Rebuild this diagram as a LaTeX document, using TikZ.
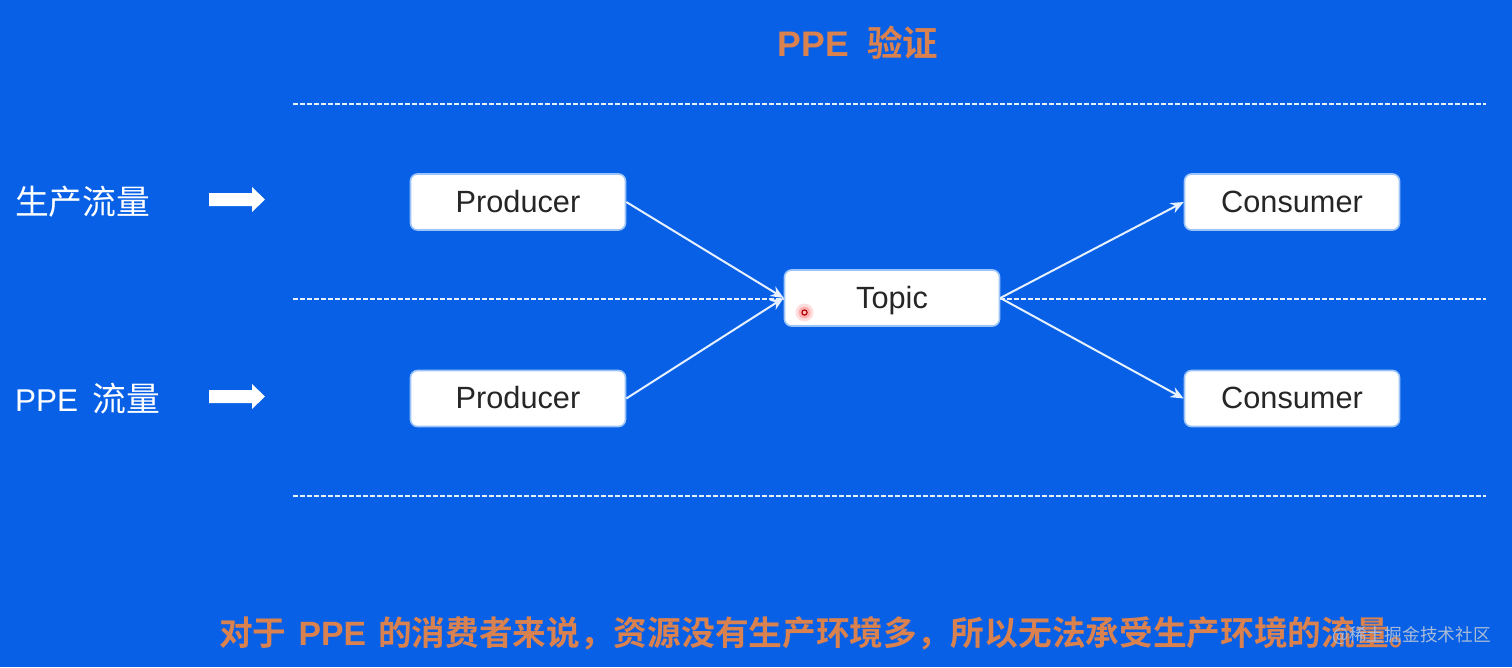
\documentclass[tikz,border=0pt]{standalone}
\usepackage{fontspec}
\setmainfont{Liberation Sans}
\newfontfamily\cjk{Noto Sans CJK SC}
\newfontfamily\cjkb{Noto Sans CJK SC Bold}
\usetikzlibrary{arrows.meta}
\definecolor{bgblue}{HTML}{0760E6}
\definecolor{titleorange}{HTML}{D9824F}
\definecolor{linewhite}{HTML}{E6F0FF}
\definecolor{boxedge}{HTML}{9CC4F8}
\definecolor{wmgrey}{HTML}{A9BBD8}
\tikzset{
  x=1pt,y=-1pt,
  box/.style={draw=boxedge,line width=1.6pt,fill=white,rounded corners=7pt,minimum width=215pt,minimum height=56pt,inner sep=0pt,text height=20pt,text depth=0pt,text=black!85,font=\fontsize{30.7}{32}\selectfont},
  guide/.style={draw=linewhite,line width=2pt,dash pattern=on 5pt off 2pt},
  flow/.style={draw=linewhite,line width=2pt,-{Stealth[length=13pt,width=11pt]}},
  side/.style={text=white,anchor=west,inner sep=0pt,font=\fontsize{33.8}{36}\selectfont\cjk},
  headline/.style={text=titleorange,inner sep=0pt},
}
\begin{document}
\begin{tikzpicture}
\fill[bgblue] (0,0) rectangle (1512,667);
\useasboundingbox (0,0) rectangle (1512,667);
\coordinate (g1a) at (293,103.5); \coordinate (g1b) at (1486,103.5);
\coordinate (g2a) at (293,298.5); \coordinate (g2b) at (1486,298.5);
\coordinate (g3a) at (293,495.5); \coordinate (g3b) at (1486,495.5);
\draw[guide] (g1a) -- (g1b);
\draw[guide] (g2a) -- (g2b);
\draw[guide] (g3a) -- (g3b);
\node[headline,font=\fontsize{35.5}{38}\selectfont] (title) at (858,43) {\textbf{PPE}\hspace{18pt}{\cjkb 验证}};
\node[side] (l1) at (15,202) {生产流量};
\node[side] (l2) at (15,399) {{\rmfamily\fontsize{31.5}{36}\selectfont PPE}\hspace{14pt}流量};
\fill[white] (209,193) -- (252,193) -- (252,187) -- (265,199.5) -- (252,212) -- (252,206) -- (209,206) -- cycle;
\fill[white] (209,390) -- (252,390) -- (252,384) -- (265,396.5) -- (252,409) -- (252,403) -- (209,403) -- cycle;
\node[box] (p1) at (518,202) {Producer};
\node[box] (p2) at (518,398.5) {Producer};
\node[box] (t) at (892,298) {Topic};
\node[box] (c1) at (1292,202) {Consumer};
\node[box] (c2) at (1292,398.5) {Consumer};
\draw[flow] (p1.east) -- (t.west);
\draw[flow] (p2.east) -- (t.west);
\draw[flow] (t.east) -- (c1.west);
\draw[flow] (t.east) -- (c2.west);
\fill[red!70!white,opacity=.18] (804.5,312.5) circle (9pt);
\fill[red!70!white,opacity=.3] (804.5,312.5) circle (6pt);
\draw[red!70!black,line width=1.2pt,fill=pink] (804.5,312.5) circle (2.6pt);
\node[headline,font=\fontsize{33.7}{36}\selectfont] (foot) at (821,633) {{\cjkb 对于}\hspace{12pt}\textbf{PPE}\hspace{12pt}{\cjkb 的消费者来说，资源没有生产环境多，所以无法承受生产环境的流量。}};
\node[text=wmgrey,inner sep=0pt,anchor=east,font=\fontsize{17.7}{20}\selectfont\cjk] (wm) at (1491,636) {@稀土掘金技术社区};
\end{tikzpicture}
\end{document}
